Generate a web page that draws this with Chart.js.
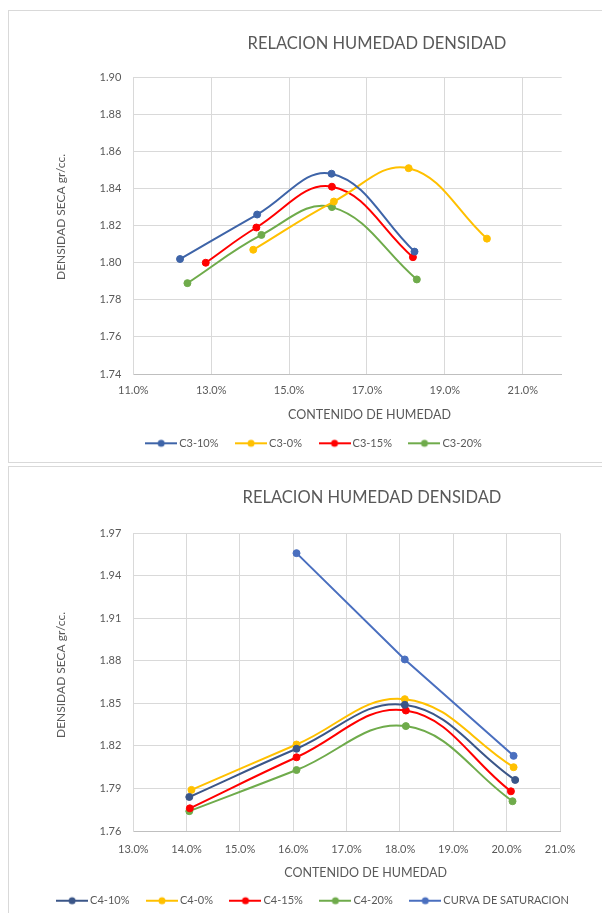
<!DOCTYPE html>
<html>
<head>
<meta charset="utf-8">
<script src="https://cdn.jsdelivr.net/npm/chart.js@4/dist/chart.umd.min.js"></script>
<style>
  html, body { margin: 0; padding: 0; background: #fff; overflow: hidden; width: 602px; height: 913px; }
  .frame { position: absolute; border: 1px solid #d9d9d9; background: #fff; box-sizing: border-box; }
  canvas { position: absolute; }
</style>
</head>
<body>
<div class="frame" style="left:8px; top:10px; width:700px; height:453px;"></div>
<div class="frame" style="left:8px; top:466px; width:700px; height:500px;"></div>
<canvas id="c3" width="594" height="452" style="left:8px; top:10px; width:594px; height:452px;"></canvas>
<canvas id="c4" width="594" height="460" style="left:8px; top:466px; width:594px; height:460px;"></canvas>
<script>
// ---- Ensayo C3: humedad (fracción) y densidad seca (gr/cc) ----
const c3Names = ['C3-10%', 'C3-0%', 'C3-15%', 'C3-20%'];
const c3Humedad10 = [0.1220, 0.1418, 0.1609, 0.1822];
const c3Densidad10 = [1.802, 1.826, 1.848, 1.806];
const c3Humedad0 = [0.1408, 0.1615, 0.1807, 0.2008];
const c3Densidad0 = [1.807, 1.833, 1.851, 1.813];
const c3Humedad15 = [0.1286, 0.1416, 0.1610, 0.1818];
const c3Densidad15 = [1.800, 1.819, 1.841, 1.803];
const c3Humedad20 = [0.1239, 0.1429, 0.1610, 0.1828];
const c3Densidad20 = [1.789, 1.815, 1.830, 1.791];
const c3XTicks = [0.11, 0.13, 0.15, 0.17, 0.19, 0.21];
const c3YTicks = [1.74, 1.76, 1.78, 1.80, 1.82, 1.84, 1.86, 1.88, 1.90];

// ---- Ensayo C4 y curva de saturación ----
const c4Names = ['C4-10%', 'C4-0%', 'C4-15%', 'C4-20%', 'CURVA DE SATURACION'];
const c4Humedad10 = [0.1405, 0.1606, 0.1809, 0.2016];
const c4Densidad10 = [1.784, 1.818, 1.849, 1.796];
const c4Humedad0 = [0.1409, 0.1606, 0.1809, 0.2013];
const c4Densidad0 = [1.789, 1.821, 1.853, 1.805];
const c4Humedad15 = [0.1406, 0.1606, 0.1811, 0.2008];
const c4Densidad15 = [1.776, 1.812, 1.845, 1.788];
const c4Humedad20 = [0.1405, 0.1606, 0.1811, 0.2011];
const c4Densidad20 = [1.774, 1.803, 1.834, 1.781];
const satHumedad = [0.1606, 0.1809, 0.2013];
const satDensidad = [1.956, 1.881, 1.813];
const c4XTicks = [0.13, 0.14, 0.15, 0.16, 0.17, 0.18, 0.19, 0.20, 0.21];
const c4YTicks = [1.76, 1.79, 1.82, 1.85, 1.88, 1.91, 1.94, 1.97];

const titleText = 'RELACION HUMEDAD DENSIDAD';
const xTitle = 'CONTENIDO DE HUMEDAD';
const yTitle = 'DENSIDAD SECA gr/cc.';

const TEXT = '#595959';
const FONT = 'Lato, "Open Sans", sans-serif';

const pairs = (xs, ys) => xs.map((x, i) => ({ x, y: ys[i] }));

// legend sample: short line with a round marker in the middle
function legendSwatch(color) {
  const c = document.createElement('canvas');
  c.width = 32; c.height = 10;
  const g = c.getContext('2d');
  g.strokeStyle = color; g.lineWidth = 2;
  g.beginPath(); g.moveTo(0, 5); g.lineTo(32, 5); g.stroke();
  g.fillStyle = color;
  g.beginPath(); g.arc(16, 5, 3.5, 0, Math.PI * 2); g.fill();
  return c;
}

function series(label, xs, ys, color, smooth) {
  return {
    label, data: pairs(xs, ys), showLine: true,
    borderColor: color, backgroundColor: color,
    borderWidth: 2, tension: smooth ? 0.4 : 0,
    pointRadius: 3.5, pointHoverRadius: 3.5, pointBorderWidth: 1,
    pointBackgroundColor: color, pointBorderColor: color,
    swatch: legendSwatch(color)
  };
}

// titles placed inside the chart frame
const frameText = {
  id: 'frameText',
  afterDraw(chart, args, opts) {
    const ctx = chart.ctx;
    ctx.save();
    ctx.fillStyle = opts.color;
    ctx.textAlign = 'center';
    ctx.textBaseline = 'middle';
    opts.items.forEach(it => {
      ctx.save();
      ctx.font = it.size + 'px ' + FONT;
      ctx.translate(it.x, it.y);
      if (it.rotate) ctx.rotate(-Math.PI / 2);
      ctx.fillText(it.text, 0, 0);
      ctx.restore();
    });
    ctx.restore();
  }
};

function makeChart(id, datasets, cfg) {
  return new Chart(document.getElementById(id), {
    type: 'scatter',
    data: { datasets },
    plugins: [frameText],
    options: {
      responsive: false,
      animation: false,
      devicePixelRatio: 1,
      layout: { padding: cfg.padding },
      plugins: {
        tooltip: { enabled: false },
        title: { display: false },
        legend: {
          position: 'bottom',
          labels: {
            usePointStyle: true,
            pointStyleWidth: 25,
            padding: 20,
            color: TEXT,
            font: { family: FONT, size: 11 },
            generateLabels(chart) {
              const items = Chart.defaults.plugins.legend.labels.generateLabels(chart);
              items.forEach(it => { it.pointStyle = chart.data.datasets[it.datasetIndex].swatch; });
              return items;
            }
          }
        },
        frameText: { color: TEXT, items: cfg.texts }
      },
      scales: {
        x: {
          type: 'linear', position: 'bottom',
          min: cfg.xMin, max: cfg.xMax,
          afterBuildTicks: s => { s.ticks = cfg.xTicks.map(v => ({ value: v })); },
          afterFit: s => { s.height = cfg.xHeight; },
          grid: { color: '#d9d9d9', drawTicks: false },
          border: { color: '#bfbfbf' },
          ticks: {
            color: TEXT, font: { family: FONT, size: 11 }, padding: cfg.xPad,
            maxRotation: 0, autoSkip: false,
            callback: v => (v * 100).toFixed(1) + '%'
          }
        },
        y: {
          type: 'linear', position: 'left',
          min: cfg.yMin, max: cfg.yMax,
          afterBuildTicks: s => { s.ticks = cfg.yTicks.map(v => ({ value: v })); },
          afterFit: s => { s.width = cfg.yWidth; },
          grid: { color: '#d9d9d9', drawTicks: false },
          border: { color: '#d9d9d9' },
          ticks: {
            color: TEXT, font: { family: FONT, size: 11 }, padding: 12,
            autoSkip: false,
            callback: v => v.toFixed(2)
          }
        },
        // empty margin to the right of the plot area
        yRight: {
          type: 'linear', position: 'right',
          min: cfg.yMin, max: cfg.yMax,
          afterFit: s => { s.width = cfg.rightWidth; },
          grid: { display: false, drawTicks: false },
          border: { display: false },
          ticks: { display: false }
        }
      }
    }
  });
}

makeChart('c3', [
  series(c3Names[0], c3Humedad10, c3Densidad10, '#3E64A8', true),
  series(c3Names[1], c3Humedad0, c3Densidad0, '#FFC000', true),
  series(c3Names[2], c3Humedad15, c3Densidad15, '#FF0000', true),
  series(c3Names[3], c3Humedad20, c3Densidad20, '#6FAB4B', true)
], {
  padding: { top: 67.3, left: 20.5, right: 0, bottom: 3.2 },
  xMin: 0.11, xMax: 0.22, xTicks: c3XTicks, xHeight: 43.8, xPad: 9.4,
  yMin: 1.74, yMax: 1.90, yTicks: c3YTicks, yWidth: 104.8, rightWidth: 40.3,
  texts: [
    { text: titleText, x: 369, y: 33.3, size: 16.5 },
    { text: xTitle, x: 361.5, y: 405, size: 12.5 },
    { text: yTitle, x: 53.4, y: 207, size: 12, rotate: true }
  ]
});

makeChart('c4', [
  series(c4Names[0], c4Humedad10, c4Densidad10, '#3B5688', true),
  series(c4Names[1], c4Humedad0, c4Densidad0, '#FFC000', true),
  series(c4Names[2], c4Humedad15, c4Densidad15, '#FF0000', true),
  series(c4Names[3], c4Humedad20, c4Densidad20, '#6FAB4B', true),
  series(c4Names[4], satHumedad, satDensidad, '#4A6FBF', false)
], {
  padding: { top: 67.3, left: 18.5, right: 0, bottom: 9.8 },
  xMin: 0.13, xMax: 0.21, xTicks: c4XTicks, xHeight: 44.2, xPad: 11.4,
  yMin: 1.76, yMax: 1.97, yTicks: c4YTicks, yWidth: 106.8, rightWidth: 42,
  texts: [
    { text: titleText, x: 364, y: 31.3, size: 16.5 },
    { text: xTitle, x: 357.6, y: 407.3, size: 12.5 },
    { text: yTitle, x: 53.4, y: 209, size: 12, rotate: true }
  ]
});
</script>
</body>
</html>
